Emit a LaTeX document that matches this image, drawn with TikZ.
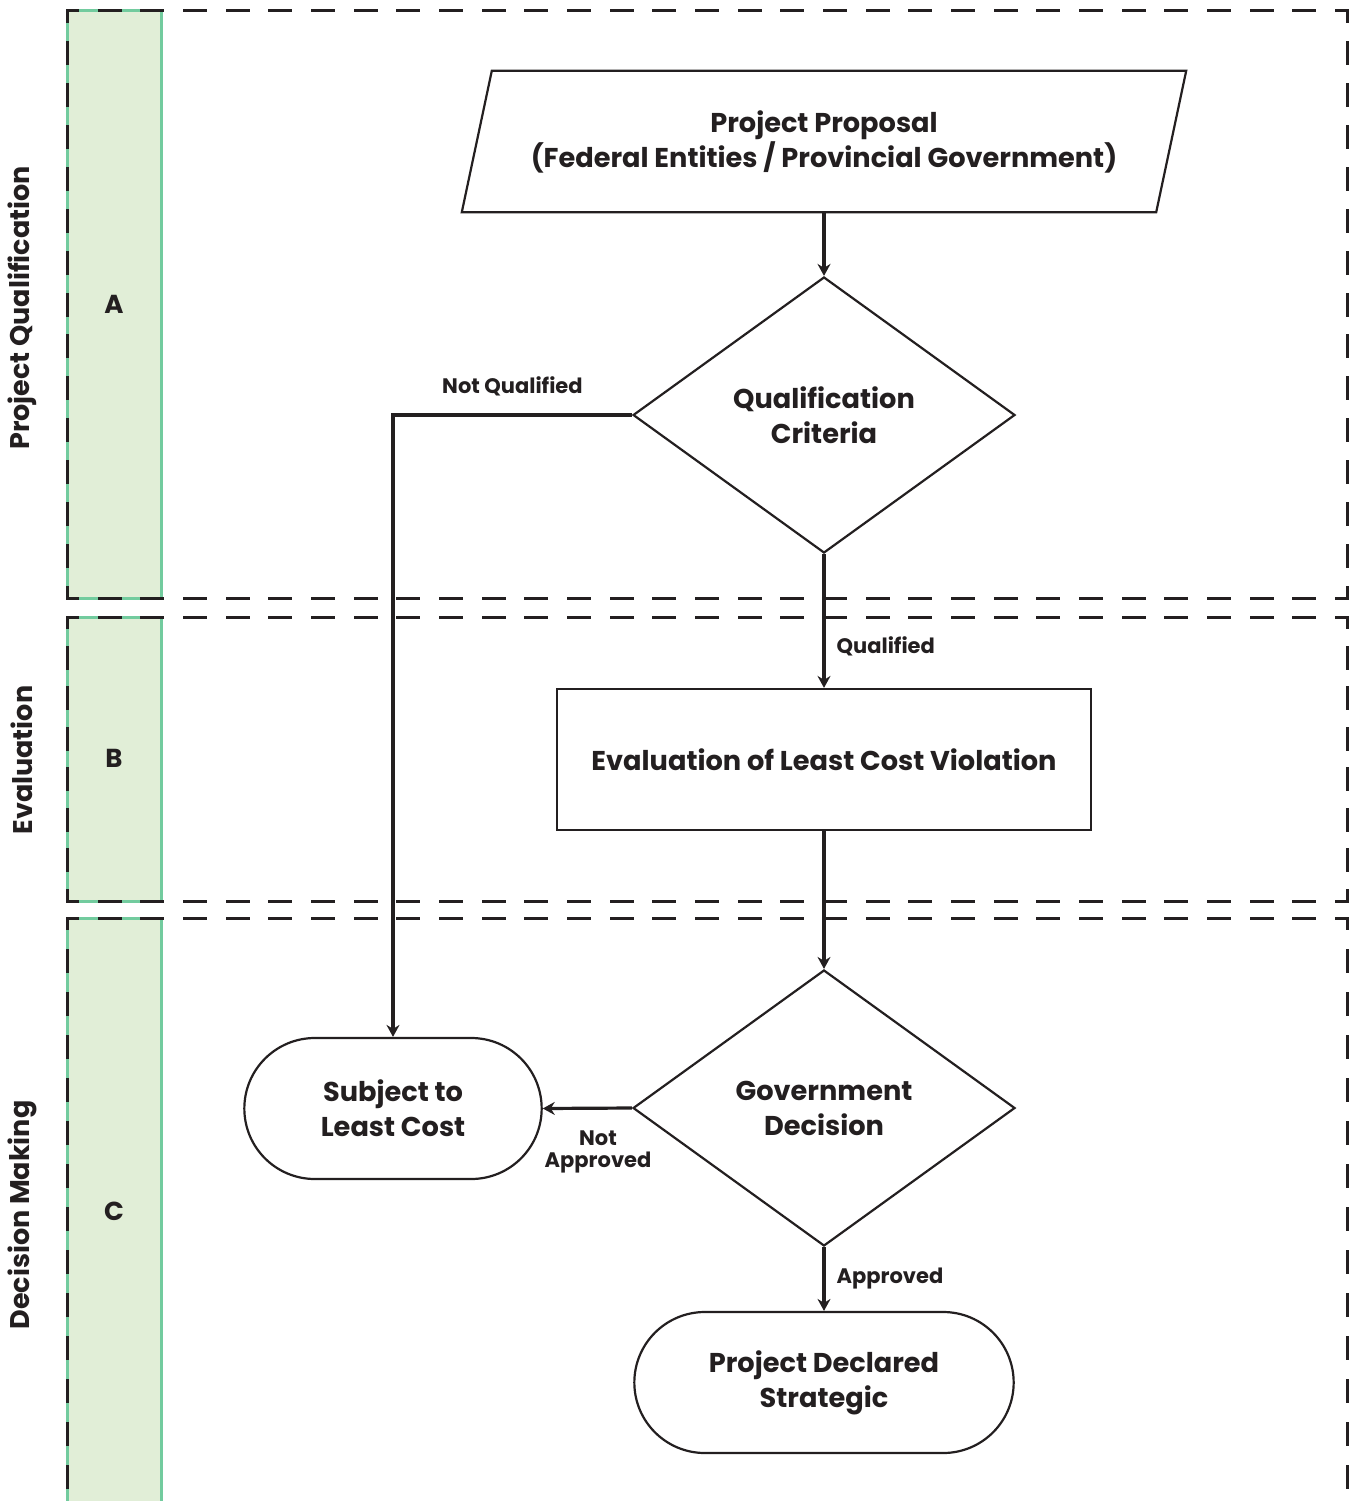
\documentclass[tikz,border=0pt]{standalone}
\usepackage{fontspec}
\setmainfont{Poppins}
\usetikzlibrary{shapes.geometric,shapes.misc,arrows.meta}
\definecolor{ink}{HTML}{231F20}
\definecolor{bandfill}{HTML}{E1EED7}
\definecolor{bandline}{HTML}{72CB9E}

\begin{document}
\begin{tikzpicture}[x=1pt,y=-1pt,
  shape line/.style={draw=ink, line width=2.2pt},
  box text/.style={font=\fontsize{27.2}{35}\selectfont\bfseries, text=ink, align=center},
  flow/.style={draw=ink, line width=3.2pt, -{Stealth[length=12pt,width=13pt,inset=4pt]}},
  flow label/.style={font=\fontsize{21}{22}\selectfont\bfseries, text=ink, align=center, inner sep=2pt},
  % dashed lane edge; the gap is chosen per edge so that both corners end on a half dash
  lane dash/.style={draw=ink, line width=3pt, line cap=rect, dash pattern=on 21pt off #1, dash phase=10.5pt},
  band/.style={fill=bandfill, draw=bandline, line width=3pt},
  lane title/.style={font=\fontsize{27}{30}\selectfont\bfseries, text=ink, rotate=90},
  lane letter/.style={font=\fontsize{26}{30}\selectfont\bfseries, text=ink}]
\useasboundingbox (0,0) rectangle (1349,1501);

% swim lanes: green header band, then dashed border edges
\begin{scope}
  \clip (0,0) rectangle (1349,1501);
  \draw[band] (67,11) rectangle (161,598);
  \draw[band] (67,617) rectangle (161,901);
  \draw[band] (67,918) rectangle (161,1530);
  % lane A
  \draw[lane dash=21.667pt] (67,11) -- (1347,11);
  \draw[lane dash=21.667pt] (67,598) -- (1347,598);
  \draw[lane dash=20.93pt] (67,11) -- (67,598);
  \draw[lane dash=20.93pt] (1347,11) -- (1347,598);
  % lane B
  \draw[lane dash=21.667pt] (67,617) -- (1347,617);
  \draw[lane dash=21.667pt] (67,901) -- (1347,901);
  \draw[lane dash=19.57pt] (67,617) -- (67,901);
  \draw[lane dash=19.57pt] (1347,617) -- (1347,901);
  % lane C (runs off the bottom)
  \draw[lane dash=21.667pt] (67,918) -- (1347,918);
  \draw[lane dash=22pt] (67,918) -- (67,1510);
  \draw[lane dash=22pt] (1347,918) -- (1347,1510);
\end{scope}

\node[lane title] (titleA) at (22,308) {Project Qualification};
\node[lane title] (titleB) at (22,760) {Evaluation};
\node[lane title] (titleC) at (22,1215) {Decision Making};
\node[lane letter] (letterA) at (114,304) {A};
\node[lane letter] (letterB) at (114,758) {B};
\node[lane letter] (letterC) at (114,1211) {C};

% flowchart
\node[box text, minimum width=694, minimum height=141, inner sep=0] (prop) at (824,141.5)
  {Project Proposal\\(Federal Entities / Provincial Government)};
\draw[shape line] ([xshift=15pt]prop.north west) -- ([xshift=15pt]prop.north east)
  -- ([xshift=-15pt]prop.south east) -- ([xshift=-15pt]prop.south west) -- cycle;

\node[diamond, shape line, box text, minimum width=382, minimum height=276, inner sep=0] (qual) at (824,415)
  {Qualification\\Criteria};
\node[rectangle, shape line, box text, minimum width=534, minimum height=141] (eval) at (824,759.5)
  {Evaluation of Least Cost Violation};
\node[diamond, shape line, box text, minimum width=382, minimum height=276, inner sep=0] (gov) at (824,1108)
  {Government\\Decision};
\node[rounded rectangle, shape line, box text, minimum width=304, minimum height=141] (sub) at (393,1108.5)
  {Subject to\\Least Cost};
\node[rounded rectangle, shape line, box text, minimum width=386, minimum height=141] (decl) at (824,1382.5)
  {Project Declared\\Strategic};

\draw[flow] (prop.south) -- (qual.north);
\draw[flow] (qual.west) -| node[flow label, above=15pt, pos=0.25] {Not Qualified} (sub.north);
\draw[flow] (qual.south) -- node[flow label, right=9pt, pos=0.69] {Qualified} (eval.north);
\draw[flow] (eval.south) -- (gov.north);
\draw[flow] (gov.west) -- node[flow label, below=19pt, pos=0.38] {Not\\Approved} (sub.east);
\draw[flow] (gov.south) -- node[flow label, right=9pt] {Approved} (decl.north);
\end{tikzpicture}
\end{document}
